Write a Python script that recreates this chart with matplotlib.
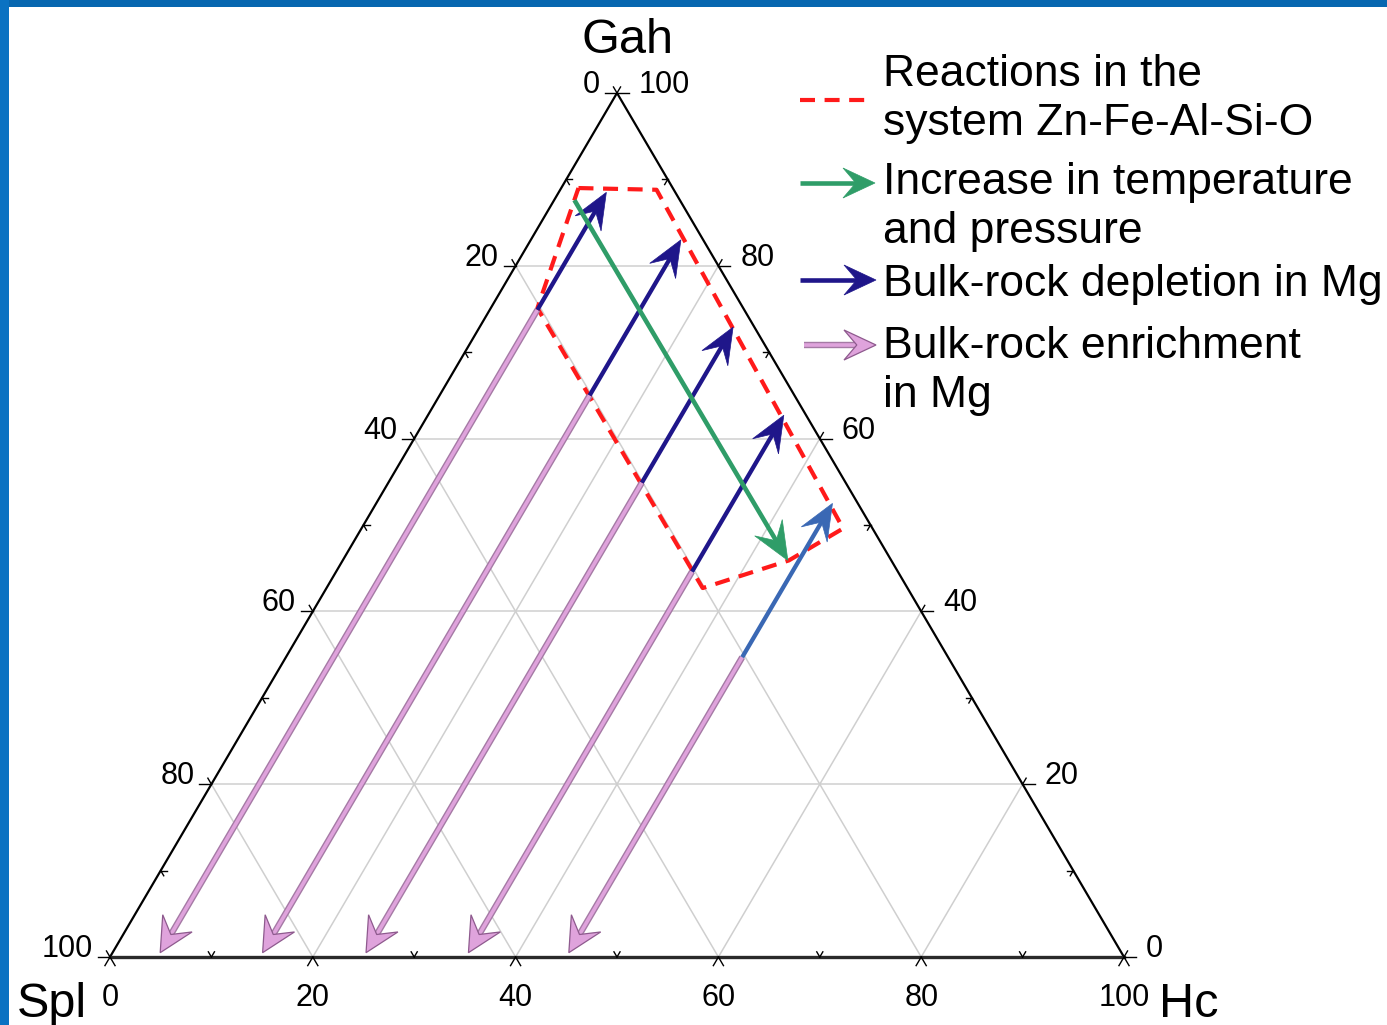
import numpy as np
import matplotlib
matplotlib.use("Agg")
import matplotlib.pyplot as plt
from matplotlib.patches import Polygon, Rectangle

FONT = ["Liberation Sans", "DejaVu Sans"]
plt.rcParams["font.family"] = FONT

# ---------------- data (ternary %: Hc, Gah; Spl = 100 - Hc - Gah) ----------------
reaction_hc = [1.7, 9.5, 47.5, 44.0, 37.1, 4.6]
reaction_gah = [89.0, 88.8, 49.6, 45.9, 42.7, 75.1]

column_hc = [4.7, 14.8, 25.0, 35.1, 45.0]
column_start_gah = [74.9, 65.0, 54.9, 44.6, 34.7]
depletion_end_gah = [88.5, 83.0, 72.9, 62.7, 52.5]
enrichment_end_gah = [0.5, 0.5, 0.5, 0.5, 0.5]
depletion_colors = ["#1f168a", "#1f168a", "#1f168a", "#1f168a", "#3a68b4"]

pt_hc = [2.0, 43.9]
pt_gah = [87.6, 45.9]

tick_values = [0, 20, 40, 60, 80, 100]
minor_values = [10, 30, 50, 70, 90]
grid_values = [20, 40, 60, 80]

legend_labels = ["Reactions in the\nsystem Zn-Fe-Al-Si-O",
                 "Increase in temperature\nand pressure",
                 "Bulk-rock depletion in Mg",
                 "Bulk-rock enrichment\nin Mg"]

# ---------------- figure ----------------
W_PX, H_PX = 1387, 1025
fig = plt.figure(figsize=(W_PX / 100, H_PX / 100), dpi=100)
fig.patch.set_facecolor("white")

AX_L, AX_B, AX_W, AX_H = 110, 68, 1014, 864
ax = fig.add_axes([AX_L / W_PX, AX_B / H_PX, AX_W / W_PX, AX_H / H_PX])
ax.set_xlim(0, 100)
ax.set_ylim(0, 100)
ax.axis("off")
SX, SY = AX_W / 100.0, AX_H / 100.0


def tern(hc, gah):
    return hc + gah / 2.0, gah


def head_arrow(axis, p0, p1, sx, sy, color, lw=2.8, L=32, Wd=27, notch=0.6,
               edge=None, shaft_outer=None, outer_extra=2.2, z=5):
    a = np.array([p0[0] * sx, p0[1] * sy])
    b = np.array([p1[0] * sx, p1[1] * sy])
    d = b - a
    u = d / np.linalg.norm(d)
    perp = np.array([-u[1], u[0]])
    base = b - L * u
    nt = b - notch * L * u
    pts = np.array([b, base + Wd / 2 * perp, nt, base - Wd / 2 * perp])
    pts_d = pts / np.array([sx, sy])
    se = (nt + 0.15 * L * u) / np.array([sx, sy])
    if shaft_outer is not None:
        axis.plot([p0[0], se[0]], [p0[1], se[1]], color=shaft_outer, lw=lw + outer_extra,
                  solid_capstyle="butt", zorder=z, clip_on=False)
    axis.plot([p0[0], se[0]], [p0[1], se[1]], color=color, lw=lw,
              solid_capstyle="butt", zorder=z + 0.1, clip_on=False)
    axis.add_patch(Polygon(pts_d, closed=True, facecolor=color,
                           edgecolor=edge if edge else color,
                           lw=0.9 if edge else 0.5, zorder=z + 0.2, clip_on=False))


# grid
GRID_C = "#cfcfcf"
for v in grid_values:
    x0, y0 = tern(0, v); x1, y1 = tern(100 - v, v)
    ax.plot([x0, x1], [y0, y1], color=GRID_C, lw=1.1, zorder=1)
    x0, y0 = tern(v, 0); x1, y1 = tern(v, 100 - v)
    ax.plot([x0, x1], [y0, y1], color=GRID_C, lw=1.1, zorder=1)
    x0, y0 = tern(100 - v, 0); x1, y1 = tern(0, 100 - v)
    ax.plot([x0, x1], [y0, y1], color=GRID_C, lw=1.1, zorder=1)

# triangle edges
ax.plot([tern(0, 0)[0], tern(0, 100)[0], tern(100, 0)[0]],
        [tern(0, 0)[1], tern(0, 100)[1], tern(100, 0)[1]],
        color="black", lw=1.6, zorder=3, clip_on=False)
ax.plot([tern(0, 0)[0], tern(100, 0)[0]], [0, 0], color="#2a2a2a", lw=2.4,
        zorder=3, clip_on=False)

# ticks
dL = np.array([507.0, 864.0]); dL /= np.linalg.norm(dL)
dR = np.array([-507.0, 864.0]); dR /= np.linalg.norm(dR)
hor = np.array([1.0, 0.0])


def seg(pt, direction, length):
    px = np.array([pt[0] * SX, pt[1] * SY])
    q = (px + direction * length) / np.array([SX, SY])
    ax.plot([pt[0], q[0]], [pt[1], q[1]], color="black", lw=1.0, zorder=3,
            clip_on=False)


for v in tick_values:
    p = tern(v, 0)
    seg(p, -dL, 10); seg(p, -dR, 10)
    p = tern(0, 100 - v)
    seg(p, -hor, 12); seg(p, dR, 7)
    p = tern(100 - v, v)
    seg(p, hor, 12); seg(p, dL, 7)
for v in minor_values:
    p = tern(v, 0)
    seg(p, dL, 6); seg(p, dR, 6)
    p = tern(0, 100 - v)
    seg(p, hor, 6); seg(p, -dR, 6)
    p = tern(100 - v, v)
    seg(p, -hor, 6); seg(p, -dL, 6)

# tick labels
TFS = 22
for v in tick_values:
    ax.annotate(str(v), xy=tern(v, 0), xytext=(0, -49), textcoords="offset pixels",
                ha="center", va="baseline", fontsize=TFS, annotation_clip=False)
    ax.annotate(str(v), xy=tern(0, 100 - v), xytext=(-17, 0), textcoords="offset pixels",
                ha="right", va="baseline", fontsize=TFS, annotation_clip=False)
    ax.annotate(str(v), xy=tern(100 - v, v), xytext=(22, 0), textcoords="offset pixels",
                ha="left", va="baseline", fontsize=TFS, annotation_clip=False)

# reaction field (red dashed)
rx = [tern(h, g)[0] for h, g in zip(reaction_hc, reaction_gah)]
ry = [tern(h, g)[1] for h, g in zip(reaction_hc, reaction_gah)]
ax.plot(rx + [rx[0]], ry + [ry[0]], color="#ff1a1a", lw=3.0,
        linestyle=(0, (3.6, 2.3)), zorder=4, clip_on=False)

# enrichment (pink) and depletion (blue) arrows
for hc, g0, g1, g2, col in zip(column_hc, column_start_gah, depletion_end_gah,
                                enrichment_end_gah, depletion_colors):
    head_arrow(ax, tern(hc, g0), tern(hc, g2), SX, SY, "#dfa3dc", lw=2.6, L=34, Wd=34,
               notch=0.62, edge="#8e5a8e", shaft_outer="#a57aa5", outer_extra=2.0, z=5)
    head_arrow(ax, tern(hc, g0), tern(hc, g1), SX, SY, col, lw=3.1, L=36, Wd=30,
               notch=0.6, z=6)

# P-T arrow (green)
head_arrow(ax, tern(pt_hc[0], pt_gah[0]), tern(pt_hc[1], pt_gah[1]), SX, SY,
           "#2f9d68", lw=3.3, L=38, Wd=32, notch=0.6, z=7)

# ---------------- overlay in pixel coords: border, labels, legend ----------------
ov = fig.add_axes([0, 0, 1, 1], zorder=10)
ov.set_xlim(0, W_PX)
ov.set_ylim(H_PX, 0)
ov.axis("off")
ov.patch.set_alpha(0)
ov.add_patch(Rectangle((0, 0), W_PX, 7, facecolor="#0767b0", edgecolor="none"))
ov.add_patch(Rectangle((0, 0), 9, H_PX, facecolor="#0a72c2", edgecolor="none"))

VFS = 35
ov.text(628, 53, "Gah", fontsize=VFS, ha="center", va="baseline")
ov.text(17, 1017, "Spl", fontsize=VFS, ha="left", va="baseline")
ov.text(1159, 1017, "Hc", fontsize=VFS, ha="left", va="baseline")

LFS = 32
TX = 883
ov.plot([800, 866], [100, 100], color="#ff1a1a", lw=3.0, linestyle=(0, (3.6, 2.3)))
head_arrow(ov, (800, 183), (875, 183), 1, -1, "#2f9d68", lw=3.3, L=32, Wd=30, notch=0.6)
head_arrow(ov, (800, 280), (876, 280), 1, -1, "#1f168a", lw=3.3, L=32, Wd=30, notch=0.6)
head_arrow(ov, (804, 345), (876, 345), 1, -1, "#dfa3dc", lw=2.6, L=32, Wd=30, notch=0.6,
           edge="#8e5a8e", shaft_outer="#a57aa5", outer_extra=2.0)

baselines = [(86, 135), (194, 243), (296,), (358, 407)]
for lab, bls in zip(legend_labels, baselines):
    for line, bl in zip(lab.split("\n"), bls):
        ov.text(TX, bl, line, fontsize=LFS, ha="left", va="baseline")

fig.savefig("out.png", dpi=100, facecolor="white")
